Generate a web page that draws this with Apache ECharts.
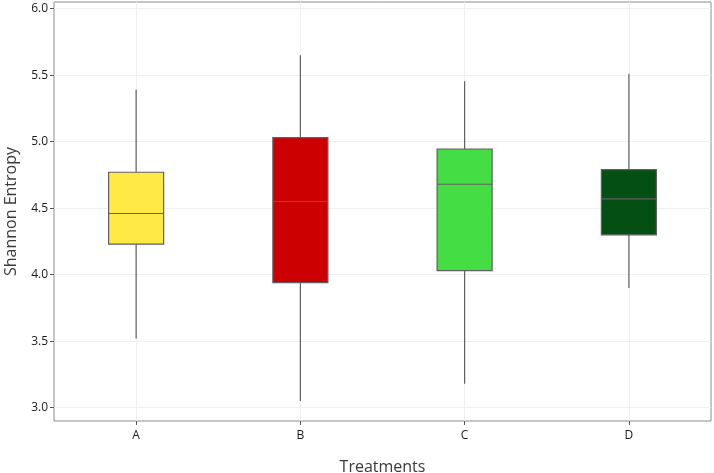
<!DOCTYPE html>
<html>
<head>
<meta charset="utf-8">
<script src="https://cdn.jsdelivr.net/npm/echarts@6/dist/echarts.min.js"></script>
<style>
html,body{margin:0;padding:0;background:#fff;}
#chart{width:714px;height:473px;}
</style>
</head>
<body>
<div id="chart"></div>
<script>
const categories = ['A', 'B', 'C', 'D'];
const whiskerLow  = [3.52, 3.05, 3.18, 3.90];
const q1          = [4.23, 3.94, 4.03, 4.30];
const median      = [4.46, 4.55, 4.68, 4.57];
const q3          = [4.77, 5.03, 4.945, 4.79];
const whiskerHigh = [5.39, 5.65, 5.455, 5.51];
const yTicks = [3.0, 3.5, 4.0, 4.5, 5.0, 5.5, 6.0];

const fills = ['#FFE945', '#CC0000', '#44DD44', '#044F14'];
const strokeCol = '#5f5f5f';

const data = categories.map((c, i) => [i, whiskerLow[i], q1[i], median[i], q3[i], whiskerHigh[i]]);

function renderItem(params, api) {
  const i = api.value(0);
  const pLo = api.coord([i, api.value(1)]);
  const pQ1 = api.coord([i, api.value(2)]);
  const pMed = api.coord([i, api.value(3)]);
  const pQ3 = api.coord([i, api.value(4)]);
  const pHi = api.coord([i, api.value(5)]);
  const w = api.size([1, 0])[0] * 0.335;
  const x = pMed[0];
  const ls = {stroke: strokeCol, lineWidth: 1.2};
  return {
    type: 'group',
    children: [
      {type: 'line', shape: {x1: x, y1: pHi[1], x2: x, y2: pQ3[1]}, style: ls},
      {type: 'line', shape: {x1: x, y1: pQ1[1], x2: x, y2: pLo[1]}, style: ls},
      {type: 'rect', shape: {x: x - w / 2, y: pQ3[1], width: w, height: pQ1[1] - pQ3[1]},
        style: {fill: fills[i], stroke: strokeCol, lineWidth: 1.2}},
      {type: 'line', shape: {x1: x - w / 2, y1: pMed[1], x2: x + w / 2, y2: pMed[1]}, style: ls}
    ]
  };
}

const chart = echarts.init(document.getElementById('chart'), null, {renderer: 'canvas'});
chart.setOption({
  animation: false,
  backgroundColor: '#ffffff',
  textStyle: {fontFamily: 'Open Sans'},
  grid: {left: 54, right: 3, top: 2, bottom: 52, show: true, borderColor: '#8c8c8c', borderWidth: 1,
    containLabel: false, outerBoundsMode: 'none'},
  xAxis: {
    type: 'category',
    data: categories,
    boundaryGap: true,
    name: 'Treatments',
    nameLocation: 'middle',
    nameGap: 38,
    nameTextStyle: {fontSize: 16, color: '#3a3a3a', fontFamily: 'Open Sans'},
    axisLine: {show: false},
    axisTick: {show: true, alignWithLabel: true, length: 4, lineStyle: {color: '#555'}},
    axisLabel: {fontSize: 12, color: '#1a1a1a', margin: 9, fontFamily: 'Open Sans'},
    splitLine: {show: true, alignWithLabel: true, lineStyle: {color: '#f0f0f0', width: 1}}
  },
  yAxis: {
    type: 'value',
    min: 2.9,
    max: 6.05,
    name: 'Shannon Entropy',
    nameLocation: 'middle',
    nameGap: 35,
    nameRotate: 90,
    nameTextStyle: {fontSize: 16, color: '#3a3a3a', fontFamily: 'Open Sans'},
    axisLine: {show: false},
    axisTick: {show: true, length: 4, lineStyle: {color: '#555'}, customValues: yTicks},
    axisLabel: {fontSize: 12, color: '#1a1a1a', margin: 6, fontFamily: 'Open Sans',
      customValues: yTicks, formatter: v => Number(v).toFixed(1)},
    splitLine: {show: true, lineStyle: {color: '#f0f0f0', width: 1}}
  },
  series: [{
    type: 'custom',
    renderItem: renderItem,
    encode: {x: 0, y: [1, 2, 3, 4, 5]},
    data: data
  }]
});
</script>
</body>
</html>
